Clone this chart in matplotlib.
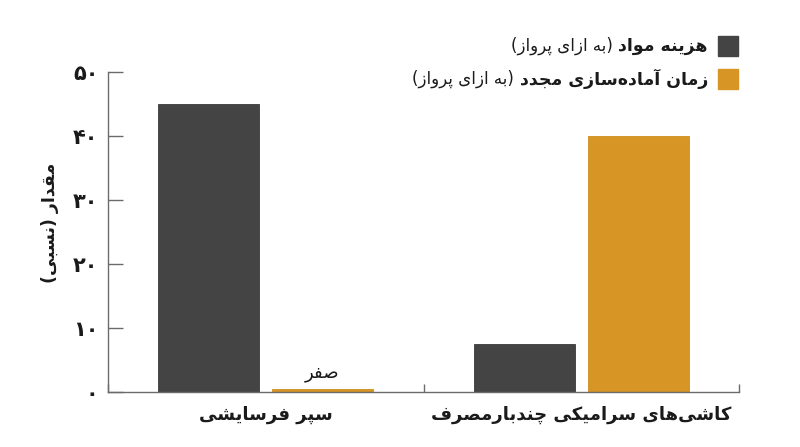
import numpy as np
import matplotlib
matplotlib.use('Agg')
import matplotlib.pyplot as plt

# data
categories = ['سپر فرسایشی', 'کاشی\u200cهای سرامیکی چندبارمصرف']
material_cost = [45, 7.5]
turnaround_time = [0.4, 40]
legend_bold = ['هزینه مواد', 'زمان آماده\u200cسازی مجدد']
legend_note = '(به ازای پرواز)'
y_ticks = [0, 10, 20, 30, 40, 50]
y_label = 'مقدار (نسبی)'
zero_note = 'صفر'

DARK = '#444444'
ORANGE = '#d69524'
TEXT = '#1a1a1a'
AXIS = '#6b6b6b'

# matplotlib has no arabic shaping, so map letters to presentation forms
# (isolated, final, initial, medial = base, +1, +2, +3)
DUAL = {'ب': 0xFE8F, 'ت': 0xFE95, 'ج': 0xFE9D, 'ح': 0xFEA1, 'خ': 0xFEA5,
        'س': 0xFEB1, 'ش': 0xFEB5, 'ص': 0xFEB9, 'ض': 0xFEBD, 'ط': 0xFEC1,
        'ظ': 0xFEC5, 'ع': 0xFEC9, 'غ': 0xFECD, 'ف': 0xFED1, 'ق': 0xFED5,
        'ل': 0xFEDD, 'م': 0xFEE1, 'ن': 0xFEE5, 'ه': 0xFEE9, 'ی': 0xFBFC,
        'ک': 0xFB8E, 'پ': 0xFB56, 'چ': 0xFB7A, 'گ': 0xFB92}
RIGHT = {'ا': 0xFE8D, 'آ': 0xFE81, 'د': 0xFEA9, 'ذ': 0xFEAB, 'ر': 0xFEAD,
         'ز': 0xFEAF, 'و': 0xFEED, 'ژ': 0xFB8A}


def fa(s):
    out = []
    for i, ch in enumerate(s):
        if ch in DUAL:
            base = DUAL[ch]
        elif ch in RIGHT:
            base = RIGHT[ch]
        else:
            if ch != '\u200c':
                out.append(ch)
            continue
        prev = s[i - 1] if i > 0 else ''
        nxt = s[i + 1] if i + 1 < len(s) else ''
        jp = prev in DUAL
        jn = ch in DUAL and (nxt in DUAL or nxt in RIGHT)
        if jp and jn:
            cp = base + 3
        elif jp:
            cp = base + 1
        elif jn:
            cp = base + 2
        else:
            cp = base
        out.append(chr(cp))
    vis = ''.join(reversed(out))
    return vis.translate(str.maketrans('()', ')('))


def fa_num(n):
    return str(n).translate(str.maketrans('0123456789', '۰۱۲۳۴۵۶۷۸۹'))


plt.rcParams['font.family'] = ['DejaVu Sans']

fig = plt.figure(figsize=(8, 4.47), dpi=100)
ax = fig.add_axes([108 / 800, 1 - 392 / 447, (739 - 108) / 800, 320 / 447])

x = np.array([0.5, 1.5])
w = 0.32
off = 0.18
ax.bar(x - off, material_cost, w, color=DARK, edgecolor='#3a3a3a', linewidth=0.6)
ax.bar(x + off, turnaround_time, w, color=ORANGE, edgecolor='#cf8e1c', linewidth=0.6)

ax.set_xlim(0, 2)
ax.set_ylim(0, 50)
for s in ['top', 'right']:
    ax.spines[s].set_visible(False)
for s in ['left', 'bottom']:
    ax.spines[s].set_color(AXIS)
    ax.spines[s].set_linewidth(1.0)

ax.set_yticks(y_ticks)
ax.set_yticklabels([fa_num(v) for v in y_ticks], fontsize=15, fontweight='bold', color=TEXT)
ax.tick_params(axis='y', direction='in', length=11, width=1.0, color=AXIS, pad=7)

ax.set_xticks([0, 1, 2])
ax.set_xticklabels([])
ax.tick_params(axis='x', which='major', direction='in', length=6, width=1.0, color=AXIS)
ax.set_xticks(x, minor=True)
ax.set_xticklabels([fa(c) for c in categories], minor=True, fontsize=13, fontweight='bold', color=TEXT)
ax.tick_params(axis='x', which='minor', length=0, pad=10)

ax.set_ylabel(fa(y_label), fontsize=12.5, fontweight='bold', color=TEXT)
ax.yaxis.set_label_coords(-0.078, 0.53)

ax.text(x[0] + off, turnaround_time[0] + 1.2, fa(zero_note), ha='center', va='bottom',
        fontsize=13, color=TEXT)

# legend: square, bold name, regular note
for i, (name, col) in enumerate(zip(legend_bold, [DARK, ORANGE])):
    yc = 1 - (46 + 33 * i) / 447
    fig.patches.append(plt.Rectangle((718 / 800, yc - 10 / 447), 20 / 800, 20 / 447,
                                     transform=fig.transFigure, color=col))
    t = fig.text(708 / 800, yc, fa(name), ha='right', va='center', fontsize=12.5,
                 fontweight='bold', color=TEXT)
    ax.annotate(fa(legend_note), xy=(0, 0.5), xycoords=t, xytext=(-4, 0),
                textcoords='offset points', ha='right', va='center', fontsize=12,
                color=TEXT, annotation_clip=False)

fig.savefig('out.png', dpi=100)
